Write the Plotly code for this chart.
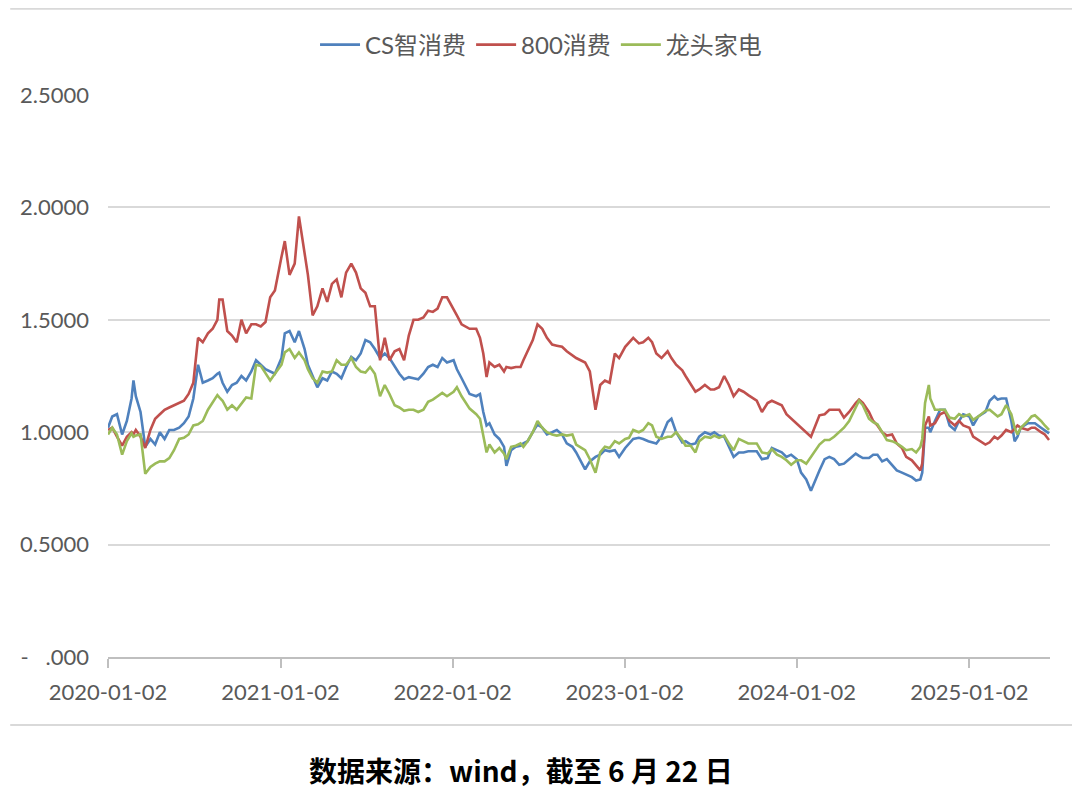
import plotly.graph_objects as go

DATES = [
    "2020-01-02","2020-01-11","2020-01-21","2020-02-01","2020-02-11","2020-02-21","2020-02-25",
    "2020-03-01","2020-03-11","2020-03-21","2020-04-01","2020-04-11","2020-04-21",
    "2020-05-01","2020-05-11","2020-05-21","2020-06-01","2020-06-11","2020-06-21",
    "2020-07-01","2020-07-11","2020-07-21","2020-08-01","2020-08-11","2020-08-21","2020-08-25",
    "2020-09-01","2020-09-11","2020-09-21","2020-10-01","2020-10-11","2020-10-21",
    "2020-11-01","2020-11-11","2020-11-21","2020-12-01","2020-12-11","2020-12-21",
    "2021-01-04","2021-01-11","2021-01-21","2021-02-01","2021-02-10","2021-02-22",
    "2021-03-01","2021-03-11","2021-03-21","2021-04-01","2021-04-11","2021-04-21",
    "2021-05-01","2021-05-11","2021-05-21","2021-06-01","2021-06-11","2021-06-21",
    "2021-07-01","2021-07-11","2021-07-21","2021-08-01","2021-08-11","2021-08-21",
    "2021-09-01","2021-09-11","2021-09-21","2021-10-01","2021-10-11","2021-10-21",
    "2021-11-01","2021-11-11","2021-11-21","2021-12-01","2021-12-11","2021-12-21",
    "2022-01-04","2022-01-11","2022-01-21","2022-02-07","2022-02-21",
    "2022-03-01","2022-03-08","2022-03-15","2022-03-21","2022-04-01","2022-04-11","2022-04-21","2022-04-26",
    "2022-05-06","2022-05-16","2022-05-26","2022-06-01","2022-06-10","2022-06-21",
    "2022-07-01","2022-07-11","2022-07-21","2022-08-01","2022-08-11","2022-08-22",
    "2022-09-01","2022-09-13","2022-09-21","2022-10-10","2022-10-20",
    "2022-11-01","2022-11-11","2022-11-21","2022-12-01","2022-12-12","2022-12-21",
    "2023-01-03","2023-01-11","2023-01-20","2023-02-01","2023-02-10","2023-02-21",
    "2023-03-01","2023-03-10","2023-03-21","2023-04-03","2023-04-11","2023-04-21",
    "2023-05-04","2023-05-11","2023-05-22","2023-06-01","2023-06-09","2023-06-21",
    "2023-07-03","2023-07-11","2023-07-21","2023-08-01","2023-08-11","2023-08-21",
    "2023-09-01","2023-09-11","2023-09-21","2023-10-09","2023-10-20",
    "2023-11-01","2023-11-10","2023-11-21","2023-12-01","2023-12-11","2023-12-21",
    "2024-01-02","2024-01-11","2024-01-22","2024-02-01","2024-02-19",
    "2024-03-01","2024-03-11","2024-03-21","2024-04-01","2024-04-11","2024-04-22",
    "2024-05-06","2024-05-13","2024-05-21","2024-06-03","2024-06-12","2024-06-21",
    "2024-07-01","2024-07-11","2024-07-22","2024-08-01","2024-08-12","2024-08-21",
    "2024-09-02","2024-09-11","2024-09-20","2024-09-24","2024-09-27","2024-09-30",
    "2024-10-08","2024-10-11","2024-10-21","2024-11-01","2024-11-11","2024-11-21",
    "2024-12-02","2024-12-11","2024-12-20",
    "2025-01-02","2025-01-10","2025-01-21","2025-02-05","2025-02-14","2025-02-24",
    "2025-03-03","2025-03-11","2025-03-21","2025-04-01","2025-04-08","2025-04-14","2025-04-21",
    "2025-05-06","2025-05-14","2025-05-21","2025-06-03","2025-06-11","2025-06-20",
]

CS_SMART = [  # CS智消费
    1.02,1.07,1.08,0.99,1.05,1.15,1.23,
    1.16,1.09,0.935,0.97,0.945,1.00,
    0.97,1.01,1.01,1.02,1.04,1.07,
    1.15,1.30,1.22,1.23,1.24,1.26,1.265,
    1.22,1.18,1.21,1.22,1.25,1.23,
    1.27,1.32,1.30,1.28,1.27,1.26,
    1.33,1.44,1.45,1.40,1.45,1.37,
    1.30,1.25,1.20,1.24,1.23,1.27,
    1.26,1.24,1.29,1.335,1.32,1.35,
    1.41,1.40,1.37,1.33,1.35,1.33,
    1.29,1.26,1.235,1.245,1.24,1.235,
    1.26,1.29,1.30,1.29,1.33,1.31,
    1.32,1.28,1.24,1.17,1.16,
    1.17,1.09,1.03,1.04,0.99,0.97,0.935,0.85,
    0.92,0.935,0.94,0.95,0.96,1.00,
    1.035,1.02,0.99,1.00,1.01,0.99,
    0.95,0.935,0.91,0.835,0.87,
    0.89,0.90,0.92,0.915,0.92,0.89,
    0.93,0.95,0.97,0.975,0.97,0.96,
    0.955,0.95,0.98,1.045,1.06,1.00,
    0.955,0.96,0.945,0.95,0.98,1.00,
    0.99,1.00,0.985,0.98,0.935,0.89,
    0.91,0.91,0.915,0.915,0.88,
    0.885,0.93,0.92,0.91,0.89,0.90,
    0.88,0.82,0.79,0.74,0.83,
    0.88,0.89,0.88,0.855,0.86,0.88,
    0.905,0.895,0.885,0.885,0.90,0.90,
    0.87,0.88,0.855,0.83,0.82,0.81,
    0.80,0.785,0.79,0.82,0.905,1.02,
    1.02,1.00,1.05,1.10,1.10,1.03,
    1.01,1.05,1.08,
    1.07,1.03,1.07,1.09,1.14,1.16,
    1.145,1.15,1.15,1.05,0.96,0.98,1.02,
    1.04,1.04,1.04,1.02,1.01,0.995,
]

CSI800_CONS = [  # 800消费
    1.01,1.02,0.98,0.94,0.98,1.00,0.99,
    1.01,0.98,0.93,1.01,1.06,1.08,
    1.10,1.11,1.12,1.13,1.14,1.17,
    1.22,1.42,1.40,1.44,1.46,1.50,1.59,
    1.59,1.45,1.43,1.40,1.50,1.44,
    1.48,1.48,1.47,1.49,1.60,1.63,
    1.78,1.85,1.70,1.75,1.96,1.80,
    1.70,1.52,1.56,1.64,1.58,1.66,
    1.68,1.60,1.71,1.75,1.71,1.64,
    1.62,1.56,1.56,1.32,1.42,1.32,
    1.36,1.37,1.32,1.43,1.50,1.50,
    1.51,1.54,1.535,1.55,1.60,1.60,
    1.55,1.52,1.48,1.46,1.46,
    1.42,1.35,1.245,1.31,1.29,1.30,1.27,1.29,
    1.285,1.29,1.29,1.32,1.36,1.41,
    1.48,1.46,1.42,1.39,1.385,1.38,
    1.36,1.34,1.33,1.31,1.27,
    1.10,1.21,1.23,1.22,1.35,1.33,
    1.38,1.40,1.42,1.395,1.40,1.42,
    1.40,1.35,1.33,1.36,1.33,1.30,
    1.275,1.25,1.21,1.18,1.19,1.21,
    1.19,1.19,1.20,1.25,1.21,1.16,
    1.19,1.18,1.165,1.14,1.09,
    1.13,1.14,1.13,1.12,1.08,1.06,
    1.04,1.02,1.00,0.98,1.075,
    1.08,1.10,1.10,1.10,1.065,1.09,
    1.13,1.145,1.13,1.09,1.05,1.03,
    1.00,0.985,0.99,0.95,0.93,0.89,
    0.875,0.85,0.83,0.86,0.95,1.03,
    1.07,1.03,1.04,1.08,1.09,1.05,
    1.03,1.05,1.03,
    1.02,0.98,0.965,0.945,0.955,0.98,
    0.97,0.985,1.01,1.00,1.015,1.03,1.02,
    1.01,1.02,1.02,1.00,0.99,0.965,
]

LEADING_APPL = [  # 龙头家电
    0.99,1.02,0.99,0.90,0.96,0.995,0.98,
    0.985,0.99,0.815,0.845,0.86,0.87,
    0.87,0.885,0.92,0.97,0.975,0.99,
    1.03,1.035,1.05,1.10,1.13,1.165,1.155,
    1.14,1.10,1.12,1.10,1.13,1.155,
    1.15,1.30,1.295,1.26,1.23,1.26,
    1.30,1.355,1.37,1.33,1.355,1.32,
    1.28,1.24,1.22,1.27,1.265,1.27,
    1.32,1.30,1.30,1.33,1.29,1.27,
    1.265,1.29,1.26,1.16,1.21,1.17,
    1.12,1.11,1.095,1.10,1.10,1.09,
    1.10,1.135,1.145,1.16,1.175,1.16,
    1.18,1.20,1.16,1.105,1.08,
    1.06,0.99,0.91,0.945,0.91,0.93,0.905,0.88,
    0.935,0.94,0.95,0.935,0.96,1.00,
    1.05,1.02,1.00,0.99,0.985,0.99,
    0.985,0.99,0.945,0.92,0.88,
    0.82,0.91,0.935,0.93,0.96,0.95,
    0.97,0.975,1.01,1.00,1.01,1.04,
    1.03,0.98,0.97,0.98,0.98,1.00,
    0.965,0.94,0.94,0.91,0.96,0.98,
    0.975,0.985,0.975,0.985,0.95,0.92,
    0.97,0.96,0.95,0.95,0.91,
    0.905,0.925,0.90,0.89,0.875,0.855,
    0.875,0.875,0.86,0.89,0.945,
    0.965,0.965,0.98,1.00,1.02,1.05,
    1.11,1.14,1.12,1.06,1.045,1.035,
    1.00,0.965,0.96,0.95,0.935,0.92,
    0.925,0.91,0.935,0.97,1.05,1.13,
    1.21,1.15,1.10,1.10,1.10,1.065,
    1.06,1.08,1.07,
    1.08,1.055,1.07,1.095,1.10,1.08,
    1.07,1.08,1.12,1.08,1.02,0.99,1.02,
    1.05,1.07,1.075,1.05,1.03,1.01,
]

SERIES = [
    ("CS智消费", CS_SMART, "#4F81BD"),
    ("800消费", CSI800_CONS, "#C0504D"),
    ("龙头家电", LEADING_APPL, "#9BBB59"),
]

X_TICKS = ["2020-01-02", "2021-01-02", "2022-01-02", "2023-01-02", "2024-01-02", "2025-01-02"]
Y_TICKS = [0, 0.5, 1.0, 1.5, 2.0, 2.5]
Y_TICK_TEXT = ["-\u00a0\u00a0\u00a0.000", "0.5000", "1.0000", "1.5000", "2.0000", "2.5000"]
CAPTION = "数据来源：wind，截至 6 月 22 日"

fig = go.Figure()
for name, vals, color in SERIES:
    fig.add_trace(go.Scatter(
        x=DATES, y=vals, name=name, mode="lines",
        line=dict(color=color, width=2.6),
    ))

FONT = "Lato, 'Noto Sans CJK SC', sans-serif"

fig.update_layout(
    width=1080, height=801,
    margin=dict(l=98, r=38, t=87, b=152),
    paper_bgcolor="white", plot_bgcolor="white",
    font=dict(family=FONT, size=22, color="#595959"),
    showlegend=True,
    legend=dict(
        orientation="h", x=0.4597, xanchor="center", y=1.089, yanchor="middle",
        font=dict(family=FONT, size=24, color="#595959"),
        itemwidth=40, tracegroupgap=0, bgcolor="rgba(0,0,0,0)",
    ),
    xaxis=dict(
        type="date",
        range=["2020-01-02", "2025-06-22"],
        tickmode="array", tickvals=X_TICKS, ticktext=X_TICKS,
        showgrid=False, showline=True, linecolor="#bfbfbf", linewidth=1.5,
        ticks="outside", ticklen=9, tickcolor="#bfbfbf", tickwidth=1.5,
        ticklabelstandoff=6,
        tickfont=dict(size=22, color="#595959"),
        zeroline=False,
    ),
    yaxis=dict(
        range=[0, 2.5],
        tickmode="array", tickvals=Y_TICKS, ticktext=Y_TICK_TEXT,
        showgrid=True, gridcolor="#d9d9d9", gridwidth=1.5,
        showline=False, zeroline=False, ticks="",
        ticklabelstandoff=18,
        tickfont=dict(size=22, color="#595959"),
    ),
    shapes=[
        dict(type="line", xref="paper", yref="paper", x0=-0.1038, x1=1.04,
             y0=1.1534, y1=1.1534, line=dict(color="#d9d9d9", width=2)),
        dict(type="line", xref="paper", yref="paper", x0=-0.1038, x1=1.04,
             y0=-0.121, y1=-0.121, line=dict(color="#d9d9d9", width=2)),
    ],
    annotations=[
        dict(text="<b>" + CAPTION + "</b>", xref="paper", yref="paper",
             x=0.4386, y=-0.201, xanchor="center", yanchor="middle", showarrow=False,
             font=dict(family="'Noto Sans CJK SC', sans-serif", size=28, color="#000000")),
    ],
)

fig.write_html("out.html")
